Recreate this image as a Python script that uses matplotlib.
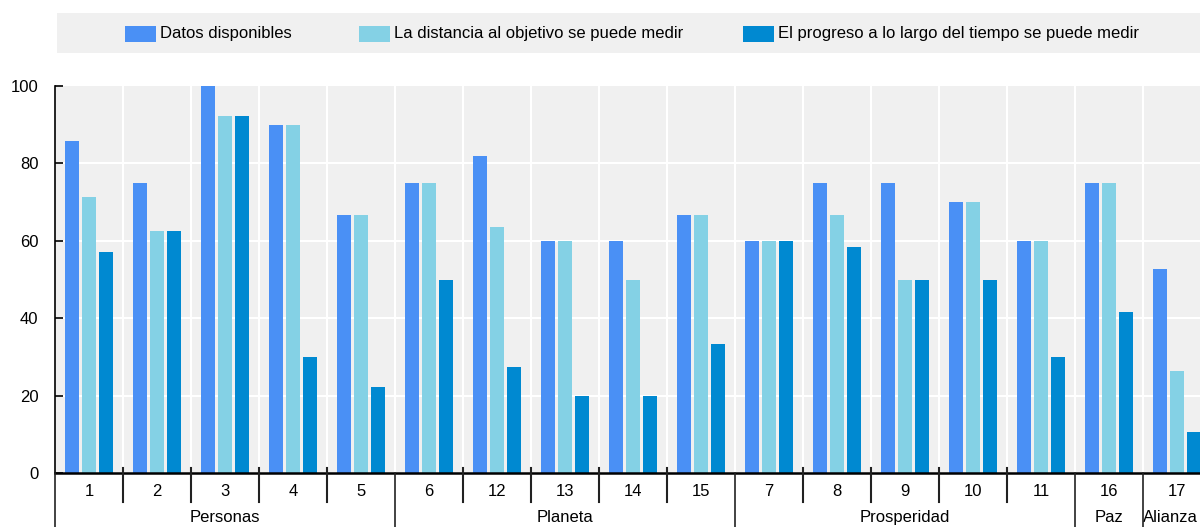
import matplotlib
matplotlib.use("Agg")
import matplotlib.pyplot as plt
import matplotlib.transforms as mtrans
from matplotlib.patches import Rectangle
import numpy as np

plt.rcParams['font.family'] = ['Liberation Sans', 'DejaVu Sans']
plt.rcParams['font.size'] = 12

goals = ["1", "2", "3", "4", "5", "6", "12", "13", "14", "15",
         "7", "8", "9", "10", "11", "16", "17"]
pillars = ["Personas", "Planeta", "Prosperidad", "Paz", "Alianza"]
pillar_sizes = [5, 5, 5, 1, 1]

datos = [85.7, 75.0, 100.0, 90.0, 66.7, 75.0, 81.8, 60.0, 60.0, 66.7,
         60.0, 75.0, 75.0, 70.0, 60.0, 75.0, 52.6]
distancia = [71.4, 62.5, 92.3, 90.0, 66.7, 75.0, 63.6, 60.0, 50.0, 66.7,
             60.0, 66.7, 50.0, 70.0, 60.0, 75.0, 26.3]
progreso = [57.1, 62.5, 92.3, 30.0, 22.2, 50.0, 27.3, 20.0, 20.0, 33.3,
            60.0, 58.3, 50.0, 50.0, 30.0, 41.7, 10.5]

series = [("Datos disponibles", datos, "#4a90f5"),
          ("La distancia al objetivo se puede medir", distancia, "#84d1e5"),
          ("El progreso a lo largo del tiempo se puede medir", progreso, "#0089d1")]

fig = plt.figure(figsize=(12, 5.27), dpi=100)
ax = fig.add_axes([55 / 1200, 54 / 527, 1156 / 1200, 387 / 527])
ax.set_facecolor("#f0f0f0")

x = np.arange(len(goals))
offsets = [-0.25, 0.0, 0.25]
for (name, vals, col), off in zip(series, offsets):
    ax.bar(x + off, vals, width=0.2, color=col, zorder=3)

ax.set_xlim(-0.5, len(goals) - 0.5)
ax.set_ylim(0, 100)
ax.set_yticks([0, 20, 40, 60, 80, 100])
ax.tick_params(axis='y', direction='in', length=6, width=1.2, pad=12, labelsize=12)
ax.set_xticks([])
for y in [20, 40, 60, 80]:
    ax.axhline(y, color="white", lw=1.5, zorder=1)
for b in np.arange(0.5, len(goals) - 0.5):
    ax.axvline(b, color="white", lw=1.5, zorder=1)

for s in ["top", "right"]:
    ax.spines[s].set_visible(False)
ax.spines["left"].set_linewidth(1.2)
ax.spines["bottom"].set_linewidth(1.8)
ax.spines["bottom"].set_zorder(4)

trans = mtrans.blended_transform_factory(ax.transData, ax.transAxes)
for i, g in enumerate(goals):
    ax.text(i, -0.049, g, transform=trans, ha="center", va="center", fontsize=12)

# separators under the axis
big = np.cumsum([0] + pillar_sizes) - 0.5
for b in np.arange(0.5, len(goals) - 0.5):
    if b in big:
        continue
    ax.plot([b, b], [0.013, -0.075], transform=trans, color="#222222", lw=1.5, clip_on=False, zorder=5)
for b in big:
    ax.plot([b, b], [0, -0.15], transform=trans, color="#222222", lw=1.2, clip_on=False, zorder=5)

for k, p in enumerate(pillars):
    c = (big[k] + big[k + 1]) / 2
    if p == "Alianza":
        c -= 0.1
    ax.text(c, -0.116, p, transform=trans, ha="center", va="center", fontsize=12)

# legend band
fig.patches.append(Rectangle((57 / 1200, 1 - 53 / 527), 1150 / 1200, 40 / 527,
                             transform=fig.transFigure, facecolor="#f0f0f0",
                             edgecolor="none", zorder=0))
leg_x = [125, 359, 743]
for (name, vals, col), lx in zip(series, leg_x):
    fig.patches.append(Rectangle((lx / 1200, 1 - 42 / 527), 31 / 1200, 16 / 527,
                                 transform=fig.transFigure, facecolor=col,
                                 edgecolor="none", zorder=1))
    fig.text((lx + 35) / 1200, 1 - 34 / 527, name, ha="left", va="center", fontsize=12)

fig.savefig("out.png", dpi=100)
